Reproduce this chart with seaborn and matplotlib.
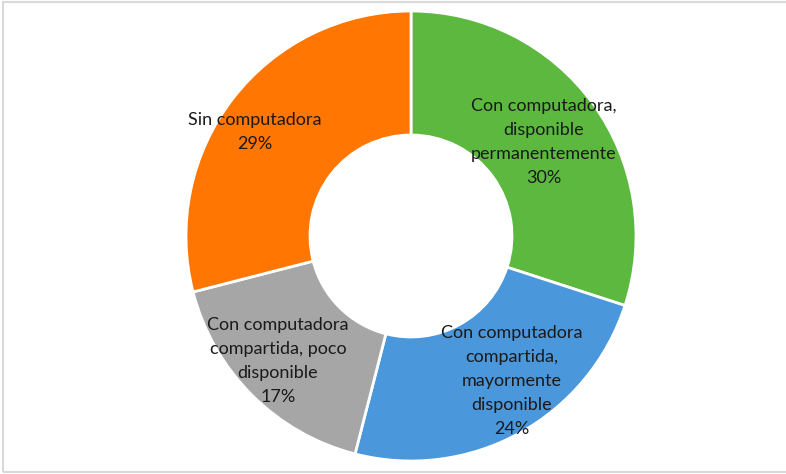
import matplotlib
matplotlib.use("Agg")
import matplotlib.pyplot as plt
from matplotlib.patches import Rectangle
import seaborn as sns

# Availability of a computer at home (share of respondents)
categories = [
    "Con computadora,\ndisponible\npermanentemente",
    "Con computadora\ncompartida,\nmayormente\ndisponible",
    "Con computadora\ncompartida, poco\ndisponible",
    "Sin computadora",
]
shares = [30, 24, 17, 29]
colors = ["#5CB83E", "#4A97DC", "#A6A6A6", "#FF7602"]

sns.set_theme(style="white")
plt.rcParams["font.family"] = ["Lato", "DejaVu Sans"]

W, H = 786, 474
fig = plt.figure(figsize=(W / 100, H / 100), dpi=100)
ax = fig.add_axes([0, 0, 1, 1])

cx, cy = 411, H - 236
r_out, r_in = 225, 101

wedges, _ = ax.pie(
    shares,
    colors=colors,
    startangle=90,
    counterclock=False,
    center=(cx, cy),
    radius=r_out,
    wedgeprops=dict(width=r_out - r_in, edgecolor="white", linewidth=2),
)

ax.set_xlim(0, W)
ax.set_ylim(0, H)
ax.set_aspect("auto")
ax.axis("off")

# label anchor points (pixel coordinates, y measured from top)
label_xy = [(544, 142), (512, 381), (278, 361), (255, 132)]
for name, val, (lx, ly) in zip(categories, shares, label_xy):
    ax.text(
        lx, H - ly, f"{name}\n{val}%",
        ha="center", va="center", fontsize=13, color="#1a1a1a",
        linespacing=1.6,
    )

# light frame around the chart area
fig.patches.append(
    Rectangle((3, 2), W + 10, H - 4, transform=None, fill=False,
              edgecolor="#d9d9d9", linewidth=1.5)
)

fig.savefig("out.png", dpi=100)
